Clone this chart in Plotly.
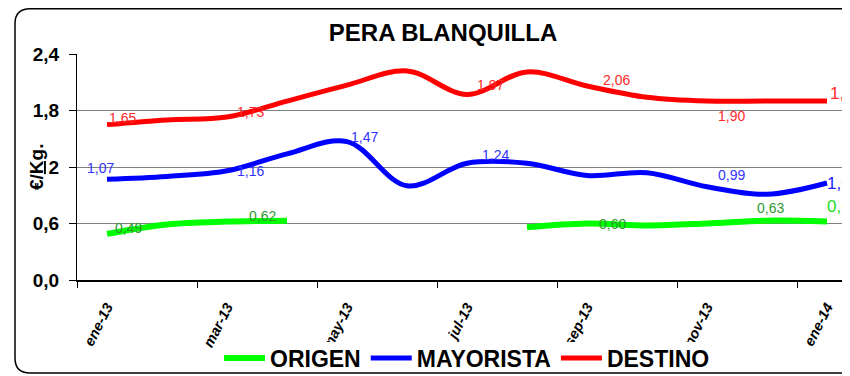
import plotly.graph_objects as go

# ---------------- data ----------------
months = ["ene-13", "feb-13", "mar-13", "abr-13", "may-13", "jun-13", "jul-13",
          "ago-13", "sep-13", "oct-13", "nov-13", "dic-13", "ene-14"]
tick_labels = ["ene-13", "mar-13", "may-13", "jul-13", "sep-13", "nov-13", "ene-14"]
origen = [0.49, 0.59, 0.62, 0.63, None, None, None, 0.56, 0.60, 0.58, 0.60, 0.63, 0.62]
mayorista = [1.07, 1.10, 1.16, 1.34, 1.47, 1.00, 1.24, 1.24, 1.11, 1.14, 0.99, 0.91, 1.03]
destino = [1.65, 1.70, 1.73, 1.90, 2.07, 2.22, 1.97, 2.21, 2.06, 1.94, 1.90, 1.90, 1.90]

# which points carry a value label
destino_lbl = [0, 2, 6, 8, 10, 12]
mayorista_lbl = [0, 2, 4, 6, 10, 12]
origen_lbl = [0, 2, 8, 11, 12]

# ---------------- styling / placement (pixels) ----------------
destino_off = [(15, 7), (23, 5), (23, 9), (29, 6), (24, -15), (1, 8)]
mayorista_off = [(-7, 11), (23, 0), (17, 5), (28, 8), (24, 12), (-2, 0)]
origen_off = [(21, 6), (35, 6), (25, 0), (3, 13), (-2, 15)]

FONT = "Liberation Sans, Arial, sans-serif"
OFF = 8                      # page body margin of the html page
PAGE_W, PAGE_H = 850, 376
W, H = PAGE_W - OFF, PAGE_H - OFF
# plot area in page pixels: left 77, top 54, bottom 280, right beyond the page
L = 77 - OFF
T = 54 - OFF
B = H - (280 - OFF)
R = 0
plot_w = W - L - R
plot_h = H - T - B
slot = 60.0
x_max = -0.5 + plot_w / slot

x = list(range(len(months)))

fig = go.Figure()
series = [
    ("ORIGEN", origen, "#00ff00", 6),
    ("MAYORISTA", mayorista, "#0000ff", 5),
    ("DESTINO", destino, "#ff0000", 5),
]
for name, vals, col, w in series:
    fig.add_trace(go.Scatter(
        x=x, y=vals, name=name, mode="lines",
        line=dict(color=col, width=w, shape="spline", smoothing=1.0),
        connectgaps=False, hoverinfo="skip"))

def fmt(v):
    return f"{v:.2f}".replace(".", ",")

annotations = []
def add_labels(vals, idxs, offs, color, endcolor):
    last = len(vals) - 1
    for i, (dx, dy) in zip(idxs, offs):
        end = (i == last)
        annotations.append(dict(
            x=i, y=vals[i], xref="x", yref="y", text=fmt(vals[i]),
            showarrow=False, xshift=dx, yshift=dy,
            xanchor="left" if end else "center", yanchor="middle",
            font=dict(family=FONT, size=17 if end else 14,
                      color=endcolor if end else color)))

add_labels(destino, destino_lbl, destino_off, "#ff2a2a", "#ff2a2a")
add_labels(mayorista, mayorista_lbl, mayorista_off, "#3333ff", "#2222ff")
add_labels(origen, origen_lbl, origen_off, "#2e9a2e", "#22dd22")

# pixel (page) -> paper helpers
def px(v):
    return (v - OFF - L) / plot_w
def py(v):
    return (H - B - (v - OFF)) / plot_h

# y-axis title
annotations.append(dict(
    x=px(36), y=0.5, xref="paper", yref="paper",
    text="€/<u>Kg</u>.", textangle=-90, showarrow=False,
    xanchor="center", yanchor="middle", bgcolor="white",
    font=dict(family=FONT, size=19, color="black", weight="bold")))

# rounded chart border
bl, bt, br, bb, rad = 15, 8.8, 890, 373, 15
path = (f"M {px(bl+rad)},{py(bt)} L {px(br)},{py(bt)} L {px(br)},{py(bb)} "
        f"L {px(bl+rad)},{py(bb)} Q {px(bl)},{py(bb)} {px(bl)},{py(bb-rad)} "
        f"L {px(bl)},{py(bt+rad)} Q {px(bl)},{py(bt)} {px(bl+rad)},{py(bt)} Z")

# white legend box (sits over the lower ends of the rotated tick labels)
legend_box = dict(type="rect", xref="paper", yref="paper",
                  x0=px(220), x1=px(718), y0=py(371), y1=py(342),
                  fillcolor="white", line=dict(width=0), layer="above")

fig.update_layout(
    template="none",
    width=W, height=H,
    margin=dict(l=L, r=R, t=T, b=B, pad=0, autoexpand=False),
    paper_bgcolor="white", plot_bgcolor="white",
    separators=",.",
    font=dict(family=FONT, color="black"),
    title=dict(text="PERA BLANQUILLA", x=(443 - OFF) / W, xref="container",
               xanchor="center", y=1 - (33 - OFF) / H, yref="container",
               yanchor="middle",
               font=dict(family=FONT, size=24, color="black", weight="bold")),
    showlegend=True,
    legend=dict(orientation="h", x=(467 - OFF) / W, xref="container", xanchor="center",
                y=1 - (358 - OFF) / H, yref="container", yanchor="middle",
                font=dict(family=FONT, size=23, color="black", weight="bold"),
                bgcolor="rgba(0,0,0,0)", borderwidth=0, itemwidth=41,
                tracegroupgap=0),
    annotations=annotations,
    shapes=[dict(type="path", path=path, xref="paper", yref="paper",
                 line=dict(color="black", width=1.5), layer="below"),
            legend_box],
    xaxis=dict(range=[-0.5, x_max], tickmode="array", automargin=False,
               tickvals=x[::2], ticktext=tick_labels, ticks="",
               tickangle=-63, ticklabelstandoff=11,
               tickfont=dict(family=FONT, size=14.5, color="black",
                             weight="bold", style="italic"),
               showline=True, linecolor="black", linewidth=1.5,
               showgrid=False, zeroline=False,
               minor=dict(tickmode="array",
                          tickvals=[v - 0.5 for v in x[::2]],
                          ticks="outside", ticklen=6, tickcolor="black",
                          tickwidth=1, showgrid=False)),
    yaxis=dict(range=[0, 2.4], tickmode="linear", tick0=0, dtick=0.6,
               automargin=False,
               tickformat=".1f", ticks="outside", ticklen=7, tickcolor="black",
               ticklabelstandoff=6,
               tickfont=dict(family=FONT, size=19, color="black", weight="bold"),
               showline=True, linecolor="black", linewidth=1,
               showgrid=True, gridcolor="#808080", gridwidth=1, zeroline=False),
)

fig.write_html("out.html")
